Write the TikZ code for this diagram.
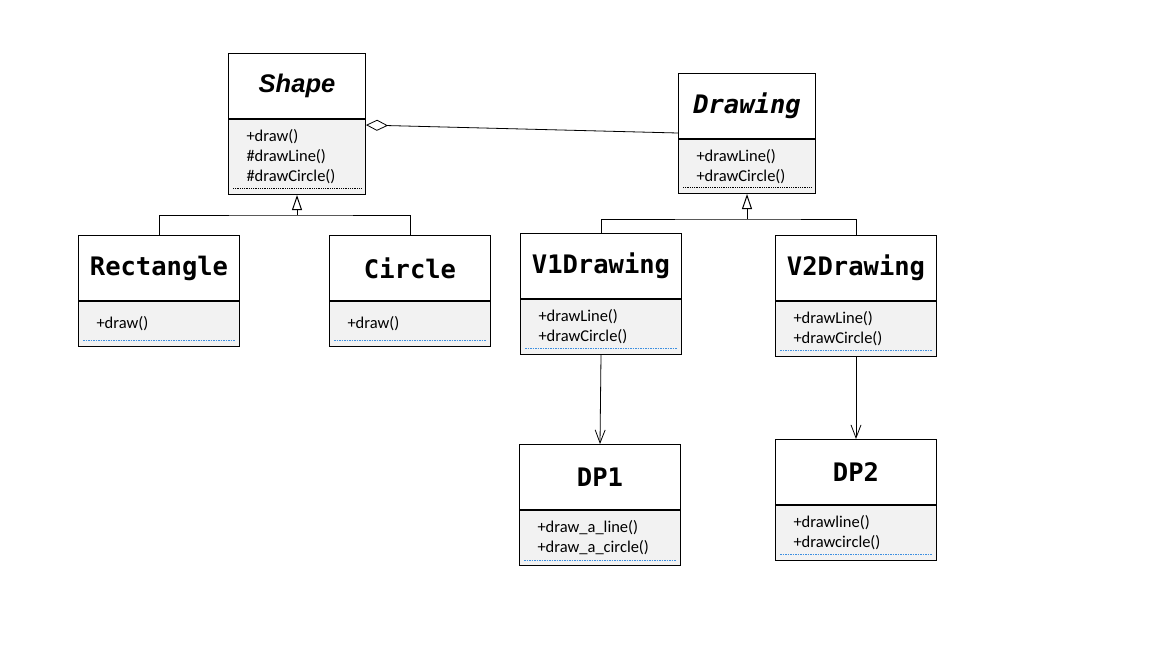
\documentclass[tikz,border=0pt]{standalone}
\usepackage{fontspec}
\setmainfont{Carlito}
\newfontfamily\namefont{DejaVu Sans Mono}
\newfontfamily\shapefont{Liberation Sans}
\usetikzlibrary{arrows.meta,positioning}
\definecolor{bodygray}{HTML}{F2F2F2}
\definecolor{dotblue}{HTML}{3D8FE0}

\tikzset{
  classname/.style={draw, line width=1pt, fill=white, minimum height=65pt, inner sep=0pt,
    minimum width=#1, font=\namefont\bfseries\fontsize{25.5}{30}\selectfont},
  classbody/.style={draw, line width=1pt, fill=bodygray, inner xsep=18pt, inner ysep=0pt,
    align=left, font=\fontsize{16.5}{20}\selectfont},
  narrowbody/.style={classbody, minimum width=137pt, text width=101pt},
  widebody/.style={classbody, minimum width=161pt, text width=125pt},
  sepblack/.style={densely dotted, line width=0.8pt},
  sepblue/.style={dash pattern=on 1.5pt off 1pt, line width=1pt, dotblue},
  inherit/.style={line width=1pt, -{Triangle[open,length=15pt,width=10pt]}},
  assoc/.style={line width=0.8pt, -{Straight Barb[length=13pt,width=10pt]}},
  aggr/.style={line width=0.8pt, {Diamond[open,length=22pt,width=11pt]}-}
}

\begin{document}
\begin{tikzpicture}[x=1pt,y=-1pt]
    \useasboundingbox (0,0) rectangle (1167,649);

    % abstraction side
    \node[classname=137pt, anchor=north west] (shape) at (228,53) {\shapefont\bfseries\itshape Shape};
    \node[narrowbody, minimum height=75pt, below=0pt of shape] (shapebody) {+draw()\\\#drawLine()\\\#drawCircle()};
    \draw[sepblack] ([xshift=5pt,yshift=7pt]shapebody.south west) -- ([xshift=-5pt,yshift=7pt]shapebody.south east);

    \node[classname=161pt, anchor=north west] (rect) at (78,235) {Rectangle};
    \node[widebody, minimum height=45pt, below=0pt of rect] (rectbody) {+draw()};
    \draw[sepblue] ([xshift=5pt,yshift=7pt]rectbody.south west) -- ([xshift=-5pt,yshift=7pt]rectbody.south east);

    \node[classname=161pt, anchor=north west] (circ) at (329,235) {Circle};
    \node[widebody, minimum height=45pt, below=0pt of circ] (circbody) {+draw()};
    \draw[sepblue] ([xshift=5pt,yshift=7pt]circbody.south west) -- ([xshift=-5pt,yshift=7pt]circbody.south east);

    % implementation side
    \node[classname=137pt, anchor=north west] (drawing) at (678,73) {\itshape Drawing};
    \node[narrowbody, minimum height=54pt, below=0pt of drawing] (drawingbody) {+drawLine()\\+drawCircle()};
    \draw[sepblack] ([xshift=5pt,yshift=7pt]drawingbody.south west) -- ([xshift=-5pt,yshift=7pt]drawingbody.south east);

    \node[classname=161pt, anchor=north west] (vone) at (520,233) {V1Drawing};
    \node[widebody, minimum height=55pt, below=0pt of vone] (vonebody) {+drawLine()\\+drawCircle()};
    \draw[sepblue] ([xshift=5pt,yshift=6.5pt]vonebody.south west) -- ([xshift=-5pt,yshift=6.5pt]vonebody.south east);

    \node[classname=161pt, anchor=north west] (vtwo) at (775,235) {V2Drawing};
    \node[widebody, minimum height=55pt, below=0pt of vtwo] (vtwobody) {+drawLine()\\+drawCircle()};
    \draw[sepblue] ([xshift=5pt,yshift=6.5pt]vtwobody.south west) -- ([xshift=-5pt,yshift=6.5pt]vtwobody.south east);

    \node[classname=161pt, anchor=north west] (dpone) at (519,444) {DP1};
    \node[widebody, minimum height=55pt, below=0pt of dpone] (dponebody) {+draw\_a\_line()\\+draw\_a\_circle()};
    \draw[sepblue] ([xshift=5pt,yshift=6pt]dponebody.south west) -- ([xshift=-5pt,yshift=6pt]dponebody.south east);

    \node[classname=161pt, anchor=north west] (dptwo) at (775,439) {DP2};
    \node[widebody, minimum height=55pt, below=0pt of dptwo] (dptwobody) {+drawline()\\+drawcircle()};
    \draw[sepblue] ([xshift=5pt,yshift=6.5pt]dptwobody.south west) -- ([xshift=-5pt,yshift=6.5pt]dptwobody.south east);

    % generalisations
    \coordinate (shapejoin) at ([yshift=-20pt]shapebody.south);
    \draw[line width=1pt] (rect.north) |- (shapejoin) -| (circ.north);
    \draw[inherit] (shapejoin) -- (shapebody.south);

    \coordinate (drawingjoin) at ([yshift=-25pt]drawingbody.south);
    \draw[line width=1pt] (vone.north) |- (drawingjoin) -| (vtwo.north);
    \draw[inherit] (drawingjoin) -- (drawingbody.south);

    % bridge
    \draw[aggr] ([yshift=-6pt]shapebody.north east) -- ([yshift=6pt]drawing.south west);

    % uses
    \draw[assoc] (vonebody.south) -- (dpone.north);
    \draw[assoc] (vtwobody.south) -- (dptwo.north);
\end{tikzpicture}
\end{document}
